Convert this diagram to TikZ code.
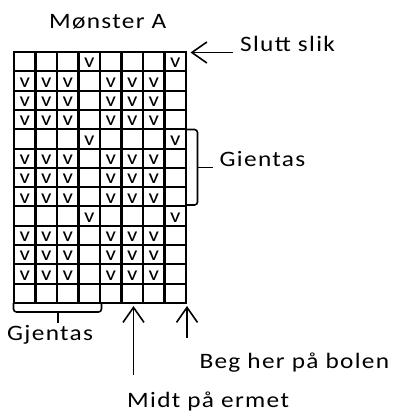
\documentclass[tikz,border=0pt]{standalone}
\usepackage{fontspec}
\setmainfont{Carlito}[FakeStretch=1.15, LetterSpace=6]
\usetikzlibrary{arrows.meta}
\begin{document}
\begin{tikzpicture}[x=1bp,y=-1bp,
  lbl/.style={anchor=base west, inner sep=0pt, font=\fontsize{22bp}{26bp}\selectfont},
  vmark/.style={anchor=base, inner sep=0pt, font=\fontsize{20bp}{24bp}\selectfont},
  hline/.style={line width=2bp},
  vline/.style={line width=2.8bp, line cap=rect},
  ptr/.style={line width=1.6bp, -{Straight Barb[length=15bp,width=21bp]}},
  brace/.style={line width=1.6bp, rounded corners=3bp}]
\useasboundingbox (0,0) rectangle (396,415);
% grid
\foreach \r in {0,...,13}
  \draw[hline] (14,{52+\r*19.3}) -- (186,{52+\r*19.3});
\foreach \c in {0,...,8}
  \draw[vline] ({14+\c*21.5},52) -- ({14+\c*21.5},303);
% v marks
\foreach \r in {2,3,4,6,7,8,10,11,12}
  \foreach \c in {1,2,3,5,6,7}
    \node[vmark] (v-\r-\c) at ({14+(\c-0.5)*21.5},{52+\r*19.3-3.4}) {v};
\foreach \r in {1,5,9}
  \foreach \c in {4,8}
    \node[vmark] (v-\r-\c) at ({14+(\c-0.5)*21.5},{52+\r*19.3-3.4}) {v};
% texts
\node[lbl] (title) at (49,28.3) {Mønster A};
\node[lbl] (slutt) at (240,51.7) {Slutt slik};
\node[lbl] (gientas) at (219.5,166.7) {Gientas};
\node[lbl] (gjentas) at (7,340.7) {Gjentas};
\node[lbl] (beg) at (199.3,368.3) {Beg her på bolen};
\node[lbl] (midt) at (127,407) {Midt på ermet};
% coordinates
\coordinate (gridTR) at (190.5,52.5);
\coordinate (sluttTail) at (233,52.5);
\coordinate (midTip) at (133.5,306);
\coordinate (midTail) at (133.5,375);
\coordinate (begTip) at (187,306);
\coordinate (begTail) at (187,338);
% arrows
\draw[ptr] (sluttTail) -- (gridTR);
\draw[ptr] (midTail) -- (midTip);
\draw[ptr] (begTail) -- (begTip);
% braces
\draw[brace] (186,129.5) -- (197.5,129.5) -- (197.5,205) -- (186,205);
\draw[line width=1.6bp] (197.5,167.5) -- (213,167.5);
\draw[brace] (13.5,303) -- (13.5,312) -- (101.5,312) -- (101.5,303);
\draw[line width=1.6bp] (58,312) -- (58,323);
\end{tikzpicture}
\end{document}
